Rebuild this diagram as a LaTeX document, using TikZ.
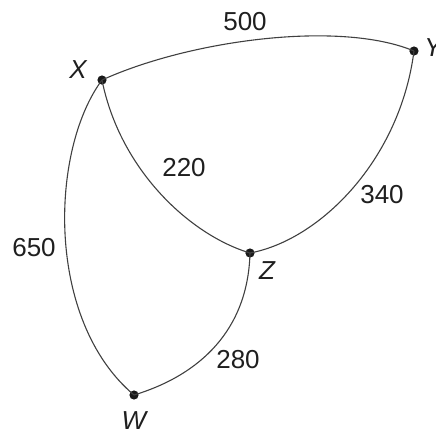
\documentclass[tikz,border=0pt]{standalone}
\usepackage{fontspec}
\setmainfont{Liberation Sans}
\begin{document}
\begin{tikzpicture}[x=0.5pt,y=-0.5pt,
  dot/.style={circle,fill=black!90,inner sep=0pt,minimum size=4.6pt},
  edge/.style={draw=black!75,line width=0.55pt},
  lbl/.style={text=black!88,inner sep=0pt,font=\fontsize{13}{15}\selectfont},
  vlbl/.style={lbl,font=\fontsize{13}{15}\selectfont\itshape}]
\useasboundingbox (0,0) rectangle (436,430);
\node[dot] (X) at (102,80) {};
\node[dot] (Y) at (414,51) {};
\node[dot] (Z) at (250,253) {};
\node[dot] (W) at (134,395) {};
\draw[edge] (X.center) .. controls (190,40) and (340,20) .. (Y.center);
\draw[edge] (X.center) .. controls (120,170) and (190,235) .. (Z.center);
\draw[edge] (Y.center) .. controls (400,160) and (320,240) .. (Z.center);
\draw[edge] (X.center) .. controls (50,150) and (45,320) .. (W.center);
\draw[edge] (Z.center) .. controls (248,330) and (200,375) .. (W.center);
\node[vlbl] (lX) at (78,70) {X};
\node[vlbl] (lY) at (433,48) {Y};
\node[vlbl] (lZ) at (267,271) {Z};
\node[vlbl] (lW) at (134,421) {W};
\node[lbl] (l500) at (245,22) {500};
\node[lbl] (l220) at (184,168) {220};
\node[lbl] (l340) at (382,195) {340};
\node[lbl] (l650) at (34,248) {650};
\node[lbl] (l280) at (238,360) {280};
\end{tikzpicture}
\end{document}
